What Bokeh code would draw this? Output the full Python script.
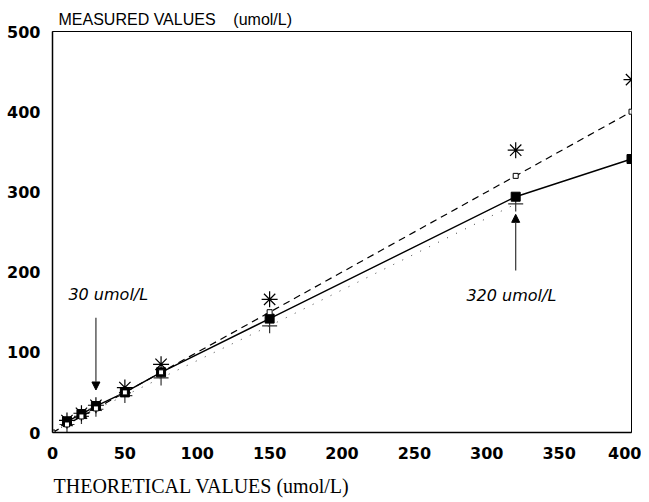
from bokeh.plotting import figure
from bokeh.embed import file_html
from bokeh.resources import INLINE
from bokeh.models import Title, Arrow, NormalHead, Range1d, FixedTicker, ColumnDataSource
from bokeh.core.properties import value

# theoretical concentrations (umol/L)
theoretical = [0, 10, 20, 30, 50, 75, 150, 320, 400]
# identity (expected) values
expected = [0, 10, 20, 30, 50, 75, 150, 320, 400]
# measured series (filled squares, solid line)
x_meas = [10, 20, 30, 50, 75, 150, 320, 400]
y_meas = [14, 23, 33, 50, 75, 142, 294, 341]
# measured series (asterisks)
x_star = [10, 20, 30, 50, 75, 150, 320, 400]
y_star = [15, 24, 34, 56, 85, 166, 352, 440]
# measured series (crosses, dotted)
x_cross = [10, 20, 30, 50, 75, 150, 320]
y_cross = [10, 20, 29, 46, 68, 133, 285]

x_ticks = [0, 50, 100, 150, 200, 250, 300, 350, 400]
y_ticks = [0, 100, 200, 300, 400, 500]

# annotations
ann_texts = ["30 umol/L", "320 umol/L"]
ann_x = [11, 317]
ann_y = [172, 171]
arrow_x = [30, 320]
arrow_y_start = [143, 202]
arrow_y_end = [53, 272]

p = figure(frame_width=579, frame_height=401, output_backend="svg", toolbar_location=None,
           x_range=Range1d(0, 400), y_range=Range1d(0, 500),
           min_border_left=52, min_border_top=31, min_border_right=10, min_border_bottom=50)

p.grid.visible = False
p.background_fill_color = "white"
p.border_fill_color = "white"
p.outline_line_color = "black"
p.outline_line_width = 1

for ax in (p.xaxis[0], p.yaxis[0]):
    ax.major_tick_line_color = None
    ax.minor_tick_line_color = None
    ax.axis_line_color = "black"
    ax.axis_line_width = 1.5
    ax.major_label_text_font = "DejaVu Sans"
    ax.major_label_text_font_style = "bold"
    ax.major_label_text_font_size = "16px"
    ax.major_label_text_color = "black"

p.xaxis.ticker = FixedTicker(ticks=x_ticks)
p.yaxis.ticker = FixedTicker(ticks=y_ticks)
p.xaxis.major_label_standoff = 8
p.yaxis.major_label_standoff = 6

# lines
p.line(theoretical, expected, line_color="black", line_width=1.2, line_dash="7 5")
p.line(x_meas, y_meas, line_color="black", line_width=1.4)
p.line([0] + x_cross, [0] + y_cross, line_color="#444444", line_width=1, line_dash="1 9")

# markers
p.scatter(x_cross, y_cross, marker="cross", size=15, line_color="#333333", line_width=1.2)
p.scatter(x_star, y_star, marker="asterisk", size=16, line_color="black", line_width=1.2)
p.scatter(x_meas, y_meas, marker="square", size=9, fill_color="black", line_color="black")
p.scatter(theoretical, expected, marker="square", size=5, fill_color="white", line_color="black", line_width=1)

# arrows
for xa, ys, ye in zip(arrow_x, arrow_y_start, arrow_y_end):
    p.add_layout(Arrow(end=NormalHead(size=8, fill_color="black", line_color="black"),
                       x_start=xa, y_start=ys, x_end=xa, y_end=ye,
                       line_color="#333333", line_width=1.2))

src = ColumnDataSource(dict(x=ann_x, y=ann_y, t=ann_texts, a=["left", "center"]))
p.text(x="x", y="y", text="t", source=src, text_align="a", text_baseline="middle",
       text_font=value("DejaVu Sans"), text_font_style="italic", text_font_size="16px",
       text_color="black")

# titles
p.title = Title(text="MEASURED VALUES\u00a0\u00a0\u00a0\u00a0(umol/L)", align="left", offset=6,
                text_font="Liberation Sans", text_font_size="16px", text_font_style="normal",
                text_color="black", standoff=8)
p.add_layout(Title(text="THEORETICAL VALUES (umol/L)", align="left", offset=1,
                   text_font="Liberation Serif", text_font_size="20px", text_font_style="normal",
                   text_color="black", standoff=23), "below")

open("out.html", "w").write(file_html(p, INLINE))
